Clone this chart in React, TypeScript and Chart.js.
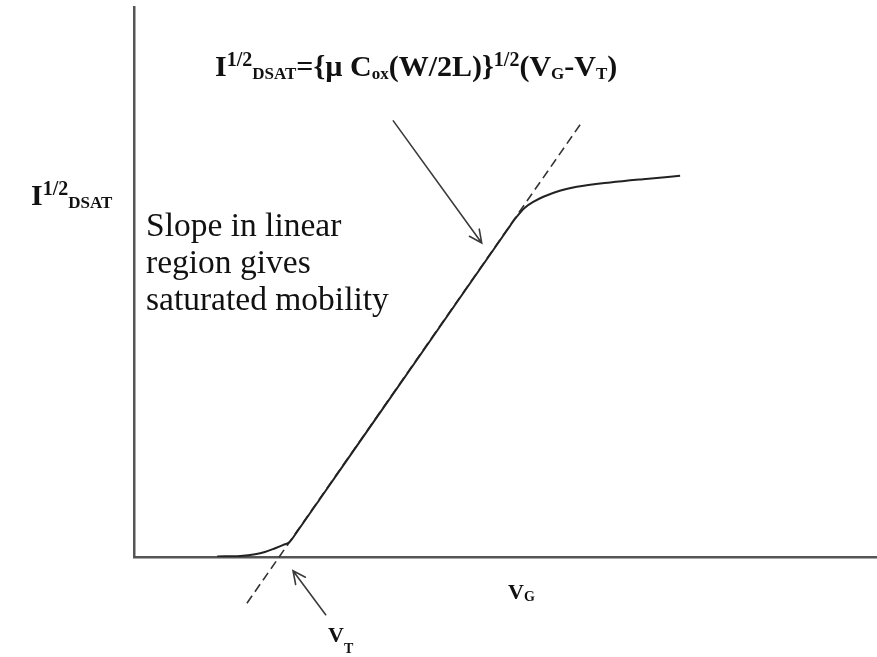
import React, { useEffect, useRef } from "react";
import { Chart, registerables } from "chart.js";

Chart.register(...registerables);

// Gate voltage (arbitrary units) and square-root saturation current along the measured curve
const curveVg = [1.12, 1.43, 1.63, 1.76, 1.9, 2.01, 2.09, 2.2, 2.5, 3.0, 4.0, 5.03, 5.13, 5.26, 5.38, 5.51, 5.73, 5.96, 6.41, 6.85, 7.35];
const curveSqrtId = [0.01, 0.02, 0.05, 0.09, 0.16, 0.22, 0.27, 0.47, 1.05, 2.02, 3.96, 5.96, 6.15, 6.35, 6.46, 6.55, 6.66, 6.73, 6.81, 6.87, 6.93];

// Extrapolated linear-region fit (dashed)
const fitVg = [1.52, 6.04];
const fitSqrtId = [-0.84, 7.93];

// Annotation arrows: [tailVg, tailI, tipVg, tipI]
const slopeArrow = [3.49, 7.93, 4.68, 5.71];
const vtArrow = [2.58, -1.05, 2.14, -0.25];

const SERIF = "'Times New Roman', 'Liberation Serif', serif";

type Seg = { t: string; size: number; dy?: number };

function drawRich(ctx: CanvasRenderingContext2D, x: number, y: number, segs: Seg[], bold: boolean) {
  let cx = x;
  for (const s of segs) {
    ctx.font = `${bold ? "bold " : ""}${s.size}px ${SERIF}`;
    ctx.fillText(s.t, cx, y + (s.dy || 0));
    cx += ctx.measureText(s.t).width;
  }
}

function drawArrow(ctx: CanvasRenderingContext2D, x1: number, y1: number, x2: number, y2: number) {
  const ang = Math.atan2(y2 - y1, x2 - x1);
  const head = 14;
  const spread = Math.PI / 7;
  ctx.beginPath();
  ctx.moveTo(x1, y1);
  ctx.lineTo(x2, y2);
  ctx.moveTo(x2 - head * Math.cos(ang - spread), y2 - head * Math.sin(ang - spread));
  ctx.lineTo(x2, y2);
  ctx.lineTo(x2 - head * Math.cos(ang + spread), y2 - head * Math.sin(ang + spread));
  ctx.stroke();
}

const annotations = {
  id: "annotations",
  afterDatasetsDraw(chart: any) {
    const ctx: CanvasRenderingContext2D = chart.ctx;
    const xs = chart.scales.x;
    const ys = chart.scales.y;
    ctx.save();
    ctx.strokeStyle = "#3a3a3a";
    ctx.lineWidth = 1.6;
    ctx.lineCap = "round";
    for (const a of [slopeArrow, vtArrow]) {
      drawArrow(
        ctx,
        xs.getPixelForValue(a[0]),
        ys.getPixelForValue(a[1]),
        xs.getPixelForValue(a[2]),
        ys.getPixelForValue(a[3])
      );
    }

    ctx.fillStyle = "#111";
    ctx.textBaseline = "alphabetic";
    ctx.textAlign = "left";

    // Saturation current expression
    drawRich(
      ctx,
      215,
      76,
      [
        { t: "I", size: 30 },
        { t: "1/2", size: 20, dy: -10 },
        { t: "DSAT", size: 17, dy: 3 },
        { t: "={\u00b5 C", size: 30 },
        { t: "ox", size: 17, dy: 3 },
        { t: "(W/2L)}", size: 30 },
        { t: "1/2", size: 20, dy: -10 },
        { t: "(V", size: 30 },
        { t: "G", size: 17, dy: 3 },
        { t: "-V", size: 30 },
        { t: "T", size: 17, dy: 3 },
        { t: ")", size: 30 },
      ],
      true
    );

    // Y axis label
    drawRich(
      ctx,
      31,
      205,
      [
        { t: "I", size: 30 },
        { t: "1/2", size: 20, dy: -10 },
        { t: "DSAT", size: 17, dy: 3 },
      ],
      true
    );

    // X axis label
    drawRich(ctx, 508, 599, [{ t: "V", size: 22 }, { t: "G", size: 14, dy: 2 }], true);

    // Threshold label
    drawRich(ctx, 328, 642, [{ t: "V", size: 22 }, { t: "T", size: 14, dy: 11 }], true);

    // Slope note
    ctx.font = `33.5px ${SERIF}`;
    ctx.fillText("Slope in linear", 146, 236);
    ctx.fillText("region gives", 146, 273);
    ctx.fillText("saturated mobility", 146, 310);
    ctx.restore();
  },
};

export default function App() {
  const ref = useRef<HTMLCanvasElement | null>(null);

  useEffect(() => {
    if (!ref.current) return;
    const curve = curveVg.map((x, i) => ({ x, y: curveSqrtId[i] }));
    const fit = fitVg.map((x, i) => ({ x, y: fitSqrtId[i] }));

    const chart = new Chart(ref.current, {
      type: "line",
      data: {
        datasets: [
          {
            data: curve,
            borderColor: "#222",
            borderWidth: 2,
            pointRadius: 0,
            cubicInterpolationMode: "monotone",
            fill: false,
          },
          {
            data: fit,
            borderColor: "#333",
            borderWidth: 1.6,
            borderDash: [9, 5],
            pointRadius: 0,
            fill: false,
            clip: false as any,
          },
        ],
      },
      options: {
        responsive: false,
        animation: false,
        events: [],
        layout: { padding: { left: 134, top: 7, right: 0, bottom: 100 } },
        plugins: { legend: { display: false }, tooltip: { enabled: false }, title: { display: false } },
        scales: {
          x: {
            type: "linear",
            min: 0,
            max: 10,
            grid: { display: false, drawTicks: false },
            ticks: { display: false },
            border: { display: true, color: "#555", width: 2.5 },
            afterFit: (s: any) => {
              s.height = 0;
            },
          },
          y: {
            type: "linear",
            min: 0,
            max: 10,
            grid: { display: false, drawTicks: false },
            ticks: { display: false },
            border: { display: true, color: "#555", width: 2.5 },
            afterFit: (s: any) => {
              s.width = 0;
            },
          },
        },
      },
      plugins: [annotations],
    });
    return () => chart.destroy();
  }, []);

  return (
    <div style={{ position: "fixed", left: 0, top: 0, width: 877, height: 657, background: "#fff" }}>
      <canvas ref={ref} width={877} height={657} style={{ display: "block" }} />
    </div>
  );
}
